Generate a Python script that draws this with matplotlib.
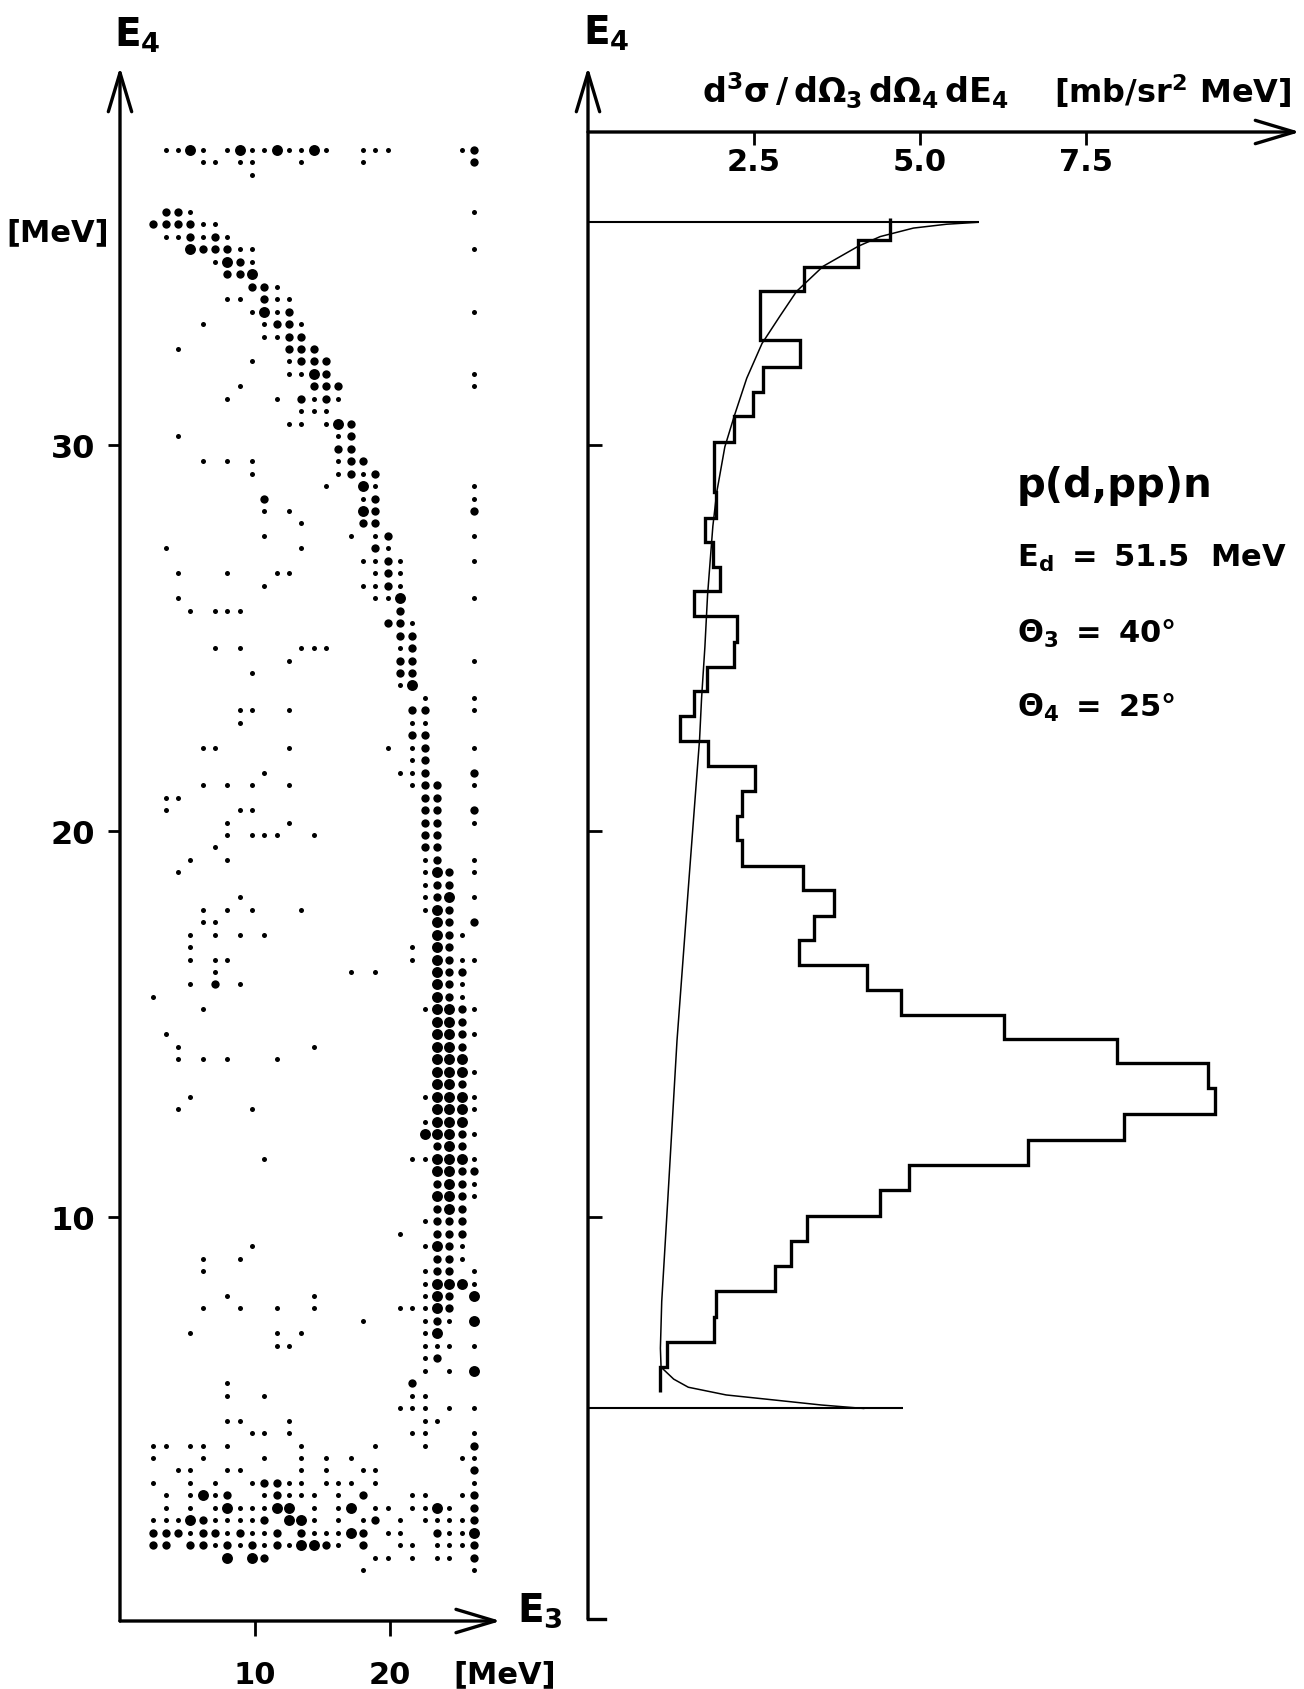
import matplotlib
matplotlib.use("Agg")
import matplotlib.pyplot as plt

plt.rcParams["font.family"] = "DejaVu Sans"
plt.rcParams["font.weight"] = "bold"

# ---------------- left panel: E3 / E4 coincidence matrix ----------------
# E3 channel centres (MeV), columns -1 .. 25 of the printout
E3_CHANNELS = [2.47, 3.39, 4.30, 5.21, 6.12, 7.04, 7.95, 8.86, 9.77, 10.69,
               11.60, 12.52, 13.43, 14.34, 15.25, 16.17, 17.08, 17.99, 18.91,
               19.82, 20.73, 21.65, 22.56, 23.47, 24.38, 25.30, 26.21]
# E4 channels: first row and channel width (MeV)
E4_TOP = 37.65
E4_STEP = 0.3228

# one string per E4 row, tokens "<column><size>", size s / m / l
DOT_ROWS = [
    "0s 1s 2l 3s 5s 6l 7s 8s 9l 10s 11s 12l 13s 16s 17s 18s 24s 25m",
    "3s 4s 6s 7s 11s 16s 25m",
    "7s",
    "",
    "",
    "0m 1m 2s 25s",
    "-1m 0m 1m 2m 3s 4s",
    "0s 1s 2m 3s 4m 5s",
    "2l 3m 4m 5m 6s 7s 25s",
    "4s 5l 6m 7s",
    "5m 6m 7l",
    "7m 8m 9s",
    "5s 6s 8m 9s 10s",
    "7s 8l 9s 10m 25s",
    "3s 8s 9m 10m 11s",
    "8s 9s 10m 11m",
    "1s 10m 11m 12m",
    "7s 10s 11m 12m 13m",
    "10s 11s 12l 13m 25s",
    "6s 12m 13m 14m 25s",
    "5s 9s 11m 12s 13m 14s",
    "11s 12s 13s",
    "10s 11s 13s 14l 15m",
    "1s 14s 15m",
    "14m 15m",
    "3s 5s 7s 14s 15m 16m",
    "7s 14s 15m 16s 17m",
    "13s 16l 17s 25s",
    "8m 16s 17m 25s",
    "8s 10s 16l 17m 25m",
    "11s 16m 17m",
    "8s 15s 17s 18m 25s",
    "0s 11s 17m 18s",
    "16s 17s 18m 19s 25s",
    "1s 5s 9s 10s 17s 18m 19s",
    "8s 16s 17s 18m 19s",
    "1s 17s 18s 19l 25s",
    "2s 4s 5s 6s 19m",
    "18m 19m 20s",
    "19m 20m",
    "4s 6s 11s 12s 13s 19s 20m",
    "10s 19m 20m 25s",
    "7s 19m 20m",
    "19s 20l",
    "21s 25s",
    "6s 7s 10s 20m 21m 25s",
    "6s 20s 21s",
    "20m 21m",
    "3s 4s 10s 18s 20s 21m 25s",
    "20s 21m",
    "8s 19s 20s 21m 25m",
    "3s 5s 7s 10s 20s 21m 22m 25s",
    "0s 1s 21m 22m",
    "0s 6s 7s 21m 22m 25m",
    "5s 10s 21m 22m 25s",
    "5s 7s 8s 9s 12s 21m 22m",
    "4s 21m 22m",
    "2s 5s 21s 22m 25s",
    "1s 21s 22l 23m 25s",
    "21s 22m 23m",
    "6s 21s 22m 23l 25s",
    "3s 5s 7s 11s 21s 22l 23m",
    "3s 4s 22l 23m 25m",
    "2s 4s 6s 8s 22l 23m 24s",
    "2s 20s 22l 23m",
    "2s 4s 5s 20s 22l 23m 24s 25s",
    "4s 15s 17s 22l 23m 24m",
    "2s 4m 6s 22l 23m 24s",
    "-1s 22l 23m 24s",
    "3s 21s 22l 23l 24m 25s",
    "22l 23l 24m",
    "0s 22l 23l 24m 25s",
    "1s 12s 22l 23l 24m",
    "1s 3s 5s 9s 22l 23l 24l",
    "22l 23l 24l 25s",
    "22l 23l 24m",
    "2s 21s 22l 23l 24l 25s",
    "1s 7s 22l 23l 24l 25s",
    "21s 22l 23l 24l",
    "21l 22l 23l 24m 25s",
    "22m 23l 24m",
    "8s 20s 21s 22l 23l 24l 25s",
    "22l 23l 24m 25m",
    "22m 23l 24m 25s",
    "22l 23l 24m 25s",
    "22m 23l 24m",
    "21s 22m 23m 24m",
    "19s 22m 23m 24m",
    "7s 21s 22l 23m 24s",
    "3s 6s 22m 23m 24s",
    "3s 21s 22m 23m 25s",
    "21s 22l 23l 24l 25s",
    "5s 12s 21s 22l 23m 25l",
    "3s 6s 9s 12s 19s 20s 21s 22l 23m",
    "16s 21s 22m 23s 25l",
    "2s 9s 11s 21s 22l",
    "9s 10s 21s 22s 23s 25s",
    "21s 22m",
    "21s 23s 25l",
    "5s 20m",
    "5s 8s 20s 21s",
    "19s 20s 21s 23s 25s",
    "5s 6s 10s 21s 22s",
    "7s 8s 10s 20s 21s 25s",
    "-1s 0s 2s 3s 5s 11s 17s 21s 25m",
    "-1s 3s 8s 11s 13s 15s 24s 25s",
    "1s 2s 5s 6s 11s 13s 16s 17s 25m",
    "-1s 2s 4s 7s 8m 9m 10s 11s 13s 14s 15s 17s 25s",
    "0s 2s 3l 4s 5m 8s 9m 10s 11s 12s 14s 16m 20s 21s 24s 25m",
    "0s 2s 4s 5l 6s 7s 8s 9l 10l 12s 14s 15l 17s 18s 20s 21s 22l 23s 25m",
    "-1s 0s 1s 2l 3m 4s 5s 6s 7s 8m 10l 11l 12s 14s 16s 17m 19s 21s 22s 23s 24s 25m",
    "-1m 0m 1m 2s 3m 4m 5s 6m 7s 8s 9m 11m 12s 13s 14s 15l 16m 18s 19s 22m 23s 24s 25l",
    "-1m 0m 2m 3m 4s 5m 6s 7m 8s 9m 10s 11l 12l 13m 14s 16m 19s 20s 22s 23s 24s 25m",
    "5l 7l 8m 17s 18s 20s 22s 23s 25m",
    "16s 25s",
]

# ---------------- right panel: projected E4 spectrum ----------------
HIST_EDGES = [5.46, 6.11, 6.77, 7.42, 8.07, 8.73, 9.37, 10.03, 10.69, 11.35,
              12.00, 12.66, 13.35, 13.98, 14.61, 15.23, 15.88, 16.53, 17.18,
              17.80, 18.46, 19.10, 19.76, 20.40, 21.03, 21.68, 22.33, 22.99,
              23.62, 24.24, 24.90, 25.58, 26.22, 26.84, 27.48, 28.12, 28.79,
              29.44, 30.08, 30.74, 31.38, 32.03, 32.71, 33.35, 33.98, 34.61,
              35.30, 35.88]
HIST_VALUES = [1.09, 1.19, 1.90, 1.92, 2.82, 3.05, 3.29, 4.39, 4.83, 6.62,
               8.07, 9.44, 9.33, 7.97, 6.26, 4.71, 4.20, 3.17, 3.40, 3.70,
               3.24, 2.32, 2.25, 2.32, 2.51, 1.80, 1.39, 1.60, 1.79, 2.20,
               2.25, 1.59, 1.99, 1.88, 1.76, 1.93, 1.90, 1.90, 2.20, 2.49,
               2.63, 3.19, 2.59, 2.59, 3.25, 4.07, 4.55]

# calculated phase-space curve
CURVE_VAL = [5.87, 5.40, 4.90, 4.40, 4.07, 3.54, 3.14, 2.89, 2.62, 2.39, 2.20,
             2.06, 1.94, 1.88, 1.84, 1.80, 1.76, 1.71, 1.68, 1.52, 1.34, 1.20,
             1.11, 1.09, 1.10, 1.29, 1.51, 2.08, 2.80, 3.51, 4.15]
CURVE_E4 = [35.77, 35.72, 35.62, 35.40, 35.15, 34.63, 33.98, 33.34, 32.63,
            31.73, 30.74, 29.95, 28.79, 27.90, 27.01, 26.11, 24.77, 23.44,
            22.38, 18.74, 14.57, 10.41, 7.81, 6.60, 6.11, 5.80, 5.59, 5.39,
            5.26, 5.13, 5.04]

# kinematic limits (E4) and length of the marker lines
LIMIT_E4 = [35.77, 5.04]
LIMIT_END = [5.88, 4.74]

XTICKS_R = [2.5, 5.0, 7.5]
E4_TICKS = [10, 20, 30]
E3_TICKS = [10, 20]

SIZES = {"s": 13, "m": 36, "l": 62}

W, H = 1304, 1690
fig = plt.figure(figsize=(W / 100, H / 100), dpi=100)

arrow = dict(arrowstyle="->,head_length=1.4,head_width=0.42", lw=2.4,
             color="black", shrinkA=0, shrinkB=0, mutation_scale=20)

# left axes
axL = fig.add_axes([120 / W, 68 / H, 380.7 / W, (1622 - 68) / H])
axL.set_xlim(0, 28.2)
axL.set_ylim(-0.466, 39.79)
for sp in axL.spines.values():
    sp.set_visible(False)
axL.annotate("", xy=(1, 0), xytext=(0, 0), xycoords="axes fraction", arrowprops=arrow)
axL.annotate("", xy=(0, 1), xytext=(0, 0), xycoords="axes fraction", arrowprops=arrow)

for k, s in SIZES.items():
    xs, ys = [], []
    for r, row in enumerate(DOT_ROWS):
        for tok in row.split():
            if tok[-1] == k:
                xs.append(E3_CHANNELS[int(tok[:-1]) + 1])
                ys.append(E4_TOP - E4_STEP * r)
    axL.scatter(xs, ys, s=s, color="black", linewidths=0)

axL.set_xticks(E3_TICKS)
axL.set_yticks(E4_TICKS)
axL.tick_params(axis="x", direction="out", length=11, width=2, pad=17, labelsize=22)
axL.tick_params(axis="y", direction="out", length=9, width=2, pad=9, labelsize=23)

# right axes
axR = fig.add_axes([588 / W, (H - 1620) / H, 712 / W, (1620 - 133) / H])
axR.set_xlim(0, 10.72)
axR.set_ylim(-0.4145, 38.109)
for name in ["top", "right", "left"]:
    axR.spines[name].set_visible(False)
axR.spines["bottom"].set_bounds(0, 0.25)
axR.spines["bottom"].set_linewidth(2.4)
axR.annotate("", xy=(1, 1), xytext=(0, 1), xycoords="axes fraction", arrowprops=arrow)
axR.annotate("", xy=(0, 1.0437), xytext=(0, 0), xycoords="axes fraction", arrowprops=arrow)

axR.xaxis.tick_top()
axR.set_xticks(XTICKS_R)
axR.set_xticklabels(["%.1f" % v for v in XTICKS_R])
axR.tick_params(axis="x", direction="in", length=9, width=2, pad=-32, labelsize=22)
axR.set_yticks(E4_TICKS)
axR.tick_params(axis="y", direction="in", length=10, width=2, labelleft=False)

axR.hlines(LIMIT_E4, 0, LIMIT_END, color="black", lw=1.5)
axR.plot(CURVE_VAL, CURVE_E4, color="black", lw=1.1)
axR.stairs(HIST_VALUES, HIST_EDGES, orientation="horizontal", baseline=None,
           color="black", lw=2.4)

# labels
fig.text(114 / W, 1 - 47 / H, r"$\mathbf{E_4}$", fontsize=28, va="baseline")
fig.text(583 / W, 1 - 45 / H, r"$\mathbf{E_4}$", fontsize=28, va="baseline")
fig.text(517 / W, 1 - 1622 / H, r"$\mathbf{E_3}$", fontsize=28, va="baseline")
fig.text(505 / W, 1 - 1683 / H, "[MeV]", fontsize=22, ha="center", va="baseline")
fig.text(58 / W, 1 - 233 / H, "[MeV]", fontsize=22, ha="center", va="center")
fig.text(702 / W, 1 - 103 / H,
         r"$\mathbf{d^3\sigma\,/\,d\Omega_3\,d\Omega_4\,dE_4}$", fontsize=24, va="baseline")
fig.text(1054 / W, 1 - 103 / H, r"$\mathbf{[mb/sr^2\ MeV]}$", fontsize=23, va="baseline")

fig.text(1017 / W, 1 - 497 / H, "p(d,pp)n", fontsize=29, va="baseline")
fig.text(1017 / W, 1 - 567 / H, r"$\mathbf{E_d\ =\ 51.5\ \ MeV}$", fontsize=22, va="baseline")
fig.text(1017 / W, 1 - 643 / H, r"$\mathbf{\Theta_3\ =\ 40°}$", fontsize=22, va="baseline")
fig.text(1017 / W, 1 - 717 / H, r"$\mathbf{\Theta_4\ =\ 25°}$", fontsize=22, va="baseline")

fig.savefig("out.png", dpi=100)
